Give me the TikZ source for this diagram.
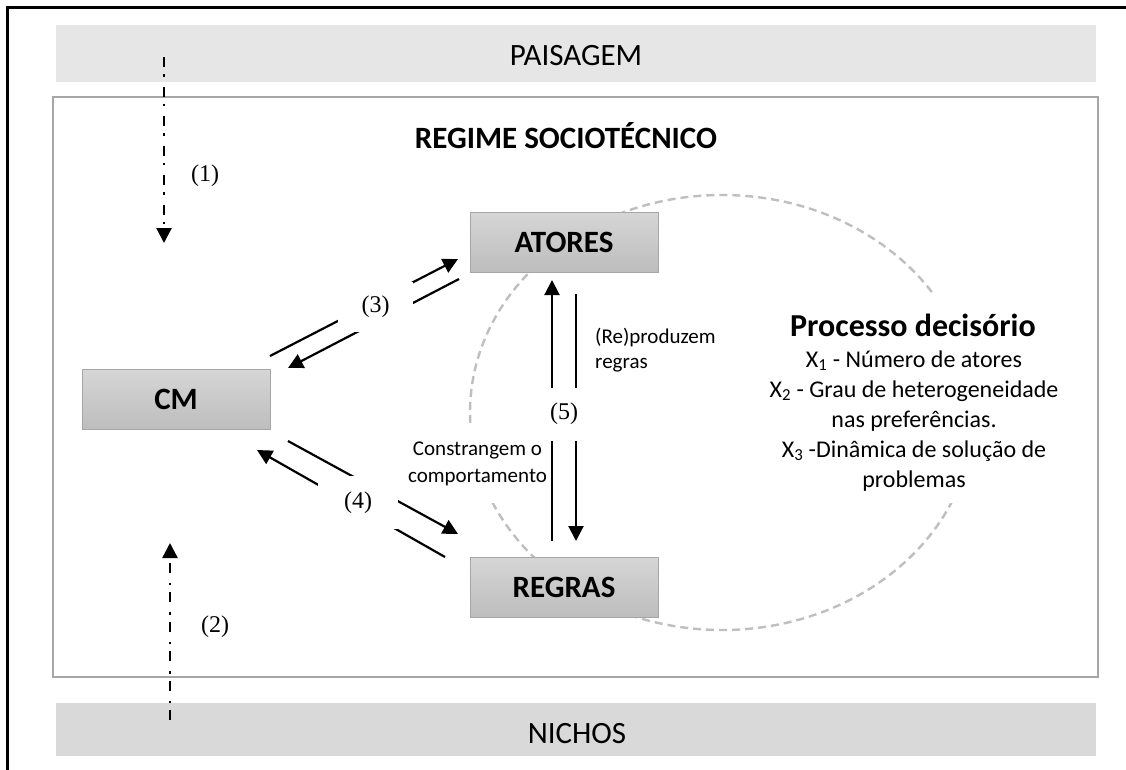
\documentclass[tikz,border=0pt]{standalone}
\usepackage{fontspec}
\setmainfont{Carlito}
\newfontfamily\numfont{Liberation Serif}
\usetikzlibrary{arrows.meta}

\definecolor{bandlight}{HTML}{E6E6E6}
\definecolor{banddark}{HTML}{D9D9D9}
\definecolor{frameline}{HTML}{A6A6A6}
\definecolor{boxtop}{HTML}{D6D6D6}
\definecolor{boxbottom}{HTML}{BDBDBD}
\definecolor{cyclegray}{HTML}{BFBFBF}

\begin{document}
\begin{tikzpicture}[x=1pt,y=-1pt,
  band/.style={inner sep=0pt, minimum width=1040pt},
  agent/.style={draw=frameline, line width=1pt, top color=boxtop, bottom color=boxbottom,
    minimum width=188pt, minimum height=60pt, inner sep=0pt,
    font=\fontsize{31}{37}\selectfont\bfseries},
  bigtext/.style={inner sep=0pt, font=\fontsize{31}{37}\selectfont},
  smalltext/.style={inner sep=0pt, font=\fontsize{21}{25}\selectfont},
  listtext/.style={inner sep=0pt, font=\fontsize{24}{29}\selectfont, anchor=base},
  numlabel/.style={inner sep=0pt, font=\numfont\fontsize{24}{28}\selectfont},
  cover/.style={fill=white, inner sep=0pt},
  flow/.style={line width=2.2pt, -{Triangle[length=15pt,width=15pt]}},
  external/.style={line width=2.4pt, dash pattern=on 10pt off 7pt on 2.5pt off 10pt,
    -{Triangle[length=15pt,width=15pt]}}
]
\path[use as bounding box, fill=white] (0,0) rectangle (1126,769);

% outer page frame
\draw[line width=2.6pt] (7.5,790) -- (7.5,7.5) -- (1150,7.5);

% landscape and niche bands
\node[band, fill=bandlight, minimum height=57pt] (paisagem) at (576,53.5) {};
\node[bigtext, anchor=base] (paisagem-txt) at (576,65) {PAISAGEM};
\node[band, fill=banddark, minimum height=53pt] (nichos) at (576,729.5) {};
\node[bigtext, anchor=base] (nichos-txt) at (577,743) {NICHOS};

% socio-technical regime
\node[draw=frameline, line width=2.2pt, minimum width=1045pt, minimum height=580pt, inner sep=0pt]
  (regime) at (575.5,387) {};
\node[bigtext, font=\fontsize{31}{37}\selectfont\bfseries, anchor=base] (regime-txt) at (566,148)
  {REGIME SOCIOTÉCNICO};

% decision-process cycle
\draw[cyclegray, line width=2.4pt, dash pattern=on 8pt off 5pt]
  (722,412.5) ellipse [x radius=252pt, y radius=217.5pt];

% main elements
\node[agent] (cm) at (176,399.5) {CM};
\node[agent] (atores) at (564,242) {ATORES};
\node[agent] (regras) at (564,587) {REGRAS};

% text blocks sitting over the cycle
\node[cover, minimum width=145pt, minimum height=80pt] (constr-box) at (477,463) {};
\node[smalltext, anchor=base] (constr-1) at (477.5,455) {Constrangem o};
\node[smalltext, anchor=base] (constr-2) at (477.5,482) {comportamento};

\node[smalltext, anchor=base west] (repro-1) at (595,343) {(Re)produzem};
\node[smalltext, anchor=base west] (repro-2) at (595,368) {regras};

\node[cover, minimum width=300pt, minimum height=210pt] (pd-box) at (913,398) {};
\node[inner sep=0pt, font=\fontsize{32}{38}\selectfont\bfseries, anchor=base] (pd-title) at (913,336)
  {Processo decisório};
\node[listtext] (pd-x1) at (914,367) {X\textsubscript{1} - Número de atores};
\node[listtext] (pd-x2) at (914,397) {X\textsubscript{2} - Grau de heterogeneidade};
\node[listtext] (pd-x2b) at (914,427) {nas preferências.};
\node[listtext] (pd-x3) at (914,457) {X\textsubscript{3} -Dinâmica de solução de};
\node[listtext] (pd-x3b) at (914,487) {problemas};

% connector end points
\coordinate (cm-a) at (270,356);   \coordinate (at-a) at (458,259);
\coordinate (at-b) at (459,279);   \coordinate (cm-b) at (288,368);
\coordinate (cm-c) at (288,441);   \coordinate (rg-c) at (458,534);
\coordinate (rg-d) at (445,557);   \coordinate (cm-d) at (257,450);
\coordinate (rg-e) at (552,541);   \coordinate (at-e) at (552,280);
\coordinate (at-f) at (576,294);   \coordinate (rg-f) at (576,541);

% (3) CM <-> actors
\draw[flow] (cm-a) -- (at-a);
\draw[flow] (at-b) -- (cm-b);
% (4) CM <-> rules
\draw[flow] (cm-c) -- (rg-c);
\draw[flow] (rg-d) -- (cm-d);
% (5) actors <-> rules
\draw[flow] (rg-e) -- (at-e);
\draw[flow] (at-f) -- (rg-f);

\node[numlabel, cover, minimum width=75pt, minimum height=50pt] (lab3) at (375.5,307) {(3)};
\node[numlabel, cover, minimum width=80pt, minimum height=53pt] (lab4) at (358,502.5) {(4)};
\node[numlabel, cover, minimum width=70pt, minimum height=53pt] (lab5) at (564,414) {(5)};

% pressures from landscape and niches
\coordinate (p1-start) at (164,57);  \coordinate (p1-end) at (164,243);
\coordinate (p2-start) at (170,720); \coordinate (p2-end) at (170,543);
\draw[external] (p1-start) -- (p1-end);
\draw[external] (p2-start) -- (p2-end);
\node[numlabel] (lab1) at (205,176) {(1)};
\node[numlabel] (lab2) at (215,627) {(2)};
\end{tikzpicture}
\end{document}
